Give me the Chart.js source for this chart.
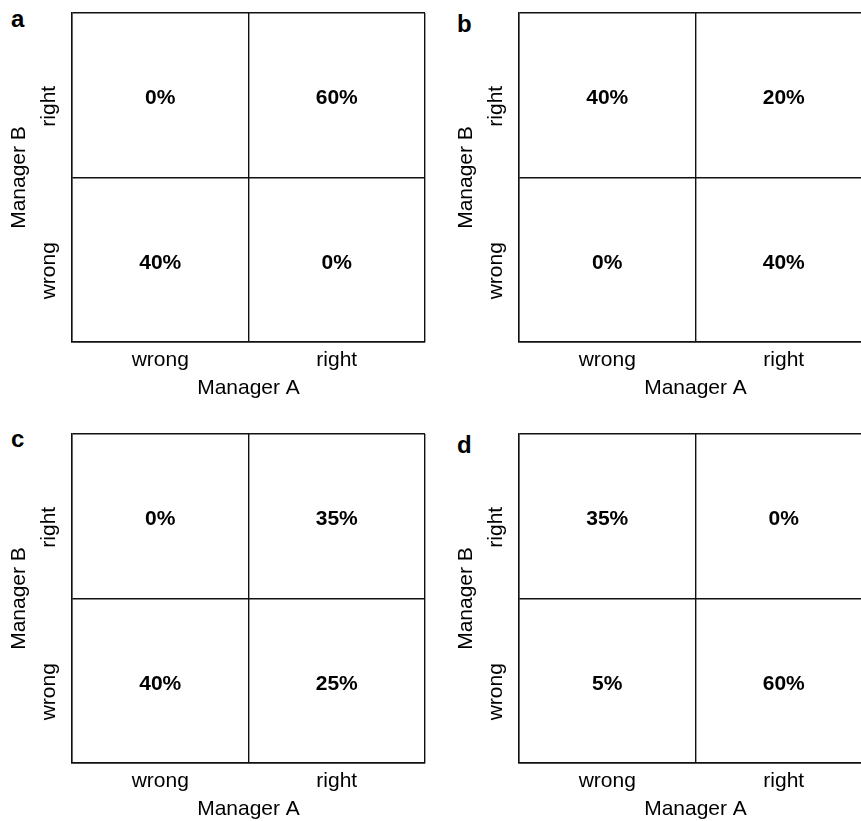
<!DOCTYPE html>
<html>
<head>
<meta charset="utf-8">
<script src="https://cdn.jsdelivr.net/npm/chart.js@4.4.1/dist/chart.umd.min.js"></script>
<style>
  html, body { margin: 0; padding: 0; background: #fff; overflow: hidden; width: 861px; height: 821px; }
  .panel { position: absolute; }
  .letter { position: absolute; font: bold 24px 'Liberation Sans', Arial, Helvetica, sans-serif; line-height: 24px; color: #000; }
</style>
</head>
<body>
<div class="letter" style="left:11px; top:7px;">a</div>
<div class="letter" style="left:457px; top:12px;">b</div>
<div class="letter" style="left:11px; top:427px;">c</div>
<div class="letter" style="left:457px; top:433px;">d</div>

<canvas id="chartA" class="panel" width="430" height="401" style="left:0px; top:0px;"></canvas>
<canvas id="chartB" class="panel" width="450" height="401" style="left:430px; top:0px;"></canvas>
<canvas id="chartC" class="panel" width="430" height="401" style="left:0px; top:421px;"></canvas>
<canvas id="chartD" class="panel" width="450" height="401" style="left:430px; top:421px;"></canvas>

<script>
// categories
const managerA = ['wrong', 'right'];          // x axis, left to right
const managerB = ['right', 'wrong'];          // y axis, top to bottom

// cell order: (A wrong, B right), (A right, B right), (A wrong, B wrong), (A right, B wrong)
const cellA = ['wrong', 'right', 'wrong', 'right'];
const cellB = ['right', 'right', 'wrong', 'wrong'];

// share of cases in each cell (%)
const panelA = [0, 60, 40, 0];
const panelB = [40, 20, 0, 40];
const panelC = [0, 35, 40, 25];
const panelD = [35, 0, 5, 60];

const FONT = "'Liberation Sans', Arial, Helvetica, sans-serif";
Chart.defaults.font.family = FONT;
Chart.defaults.color = '#000';

const LINE = '#111';
const LINE_W = 1.4;

// writes the percentage inside each cell, at the point's position
const cellLabels = {
    id: 'cellLabels',
    afterDatasetsDraw(chart) {
        const ctx = chart.ctx;
        const meta = chart.getDatasetMeta(0);
        const values = chart.data.datasets[0].data;
        ctx.save();
        ctx.fillStyle = '#000';
        ctx.font = 'bold 21px ' + FONT;
        ctx.textAlign = 'center';
        ctx.textBaseline = 'alphabetic';
        meta.data.forEach((el, i) => {
            ctx.fillText(values[i].v + '%', el.x, el.y + 9);
        });
        ctx.restore();
    }
};

// rotated tick labels on the y axis
const yTickLabels = {
    id: 'yTickLabels',
    afterDraw(chart) {
        const ctx = chart.ctx;
        const scale = chart.scales.y;
        ctx.save();
        ctx.fillStyle = '#000';
        ctx.font = '21px ' + FONT;
        ctx.textAlign = 'center';
        ctx.textBaseline = 'alphabetic';
        scale.ticks.forEach((t, i) => {
            const y = scale.getPixelForTick(i) + 11;
            ctx.save();
            ctx.translate(chart.chartArea.left - 17, y);
            ctx.rotate(-Math.PI / 2);
            ctx.fillText(scale.getLabelForValue(t.value), 0, 0);
            ctx.restore();
        });
        ctx.restore();
    }
};

function makePanel(id, values, padLeft, padRight) {
    const points = values.map((v, i) => ({ x: cellA[i], y: cellB[i], v: v }));
    return new Chart(document.getElementById(id), {
        type: 'scatter',
        data: {
            datasets: [{
                data: points,
                pointRadius: 0,
                pointHoverRadius: 0
            }]
        },
        options: {
            responsive: false,
            animation: false,
            events: [],
            layout: {
                padding: { left: padLeft, right: padRight, top: 13, bottom: 0 }
            },
            plugins: {
                legend: { display: false },
                tooltip: { enabled: false }
            },
            scales: {
                x: {
                    type: 'category',
                    labels: managerA,
                    offset: true,
                    grid: { offset: true, color: LINE, lineWidth: LINE_W, drawTicks: false },
                    border: { display: true, color: LINE, width: LINE_W },
                    ticks: { font: { size: 21 }, padding: 6, color: '#000' },
                    title: {
                        display: true,
                        text: 'Manager A',
                        font: { size: 21 },
                        color: '#000',
                        padding: { top: 0, bottom: 0 }
                    },
                    afterFit(scale) { scale.height = 59; }
                },
                y: {
                    type: 'category',
                    labels: managerB,
                    offset: true,
                    grid: { offset: true, color: LINE, lineWidth: LINE_W, drawTicks: false },
                    border: { display: true, color: LINE, width: LINE_W },
                    ticks: { display: false },
                    title: {
                        display: true,
                        text: 'Manager B',
                        font: { size: 21 },
                        color: '#000',
                        padding: { top: 7, bottom: 0 }
                    },
                    afterFit(scale) { scale.width = 72; }
                }
            }
        },
        plugins: [cellLabels, yTickLabels]
    });
}

makePanel('chartA', panelA, 0, 5);
makePanel('chartB', panelB, 17, 8);
makePanel('chartC', panelC, 0, 5);
makePanel('chartD', panelD, 17, 8);
</script>
</body>
</html>
